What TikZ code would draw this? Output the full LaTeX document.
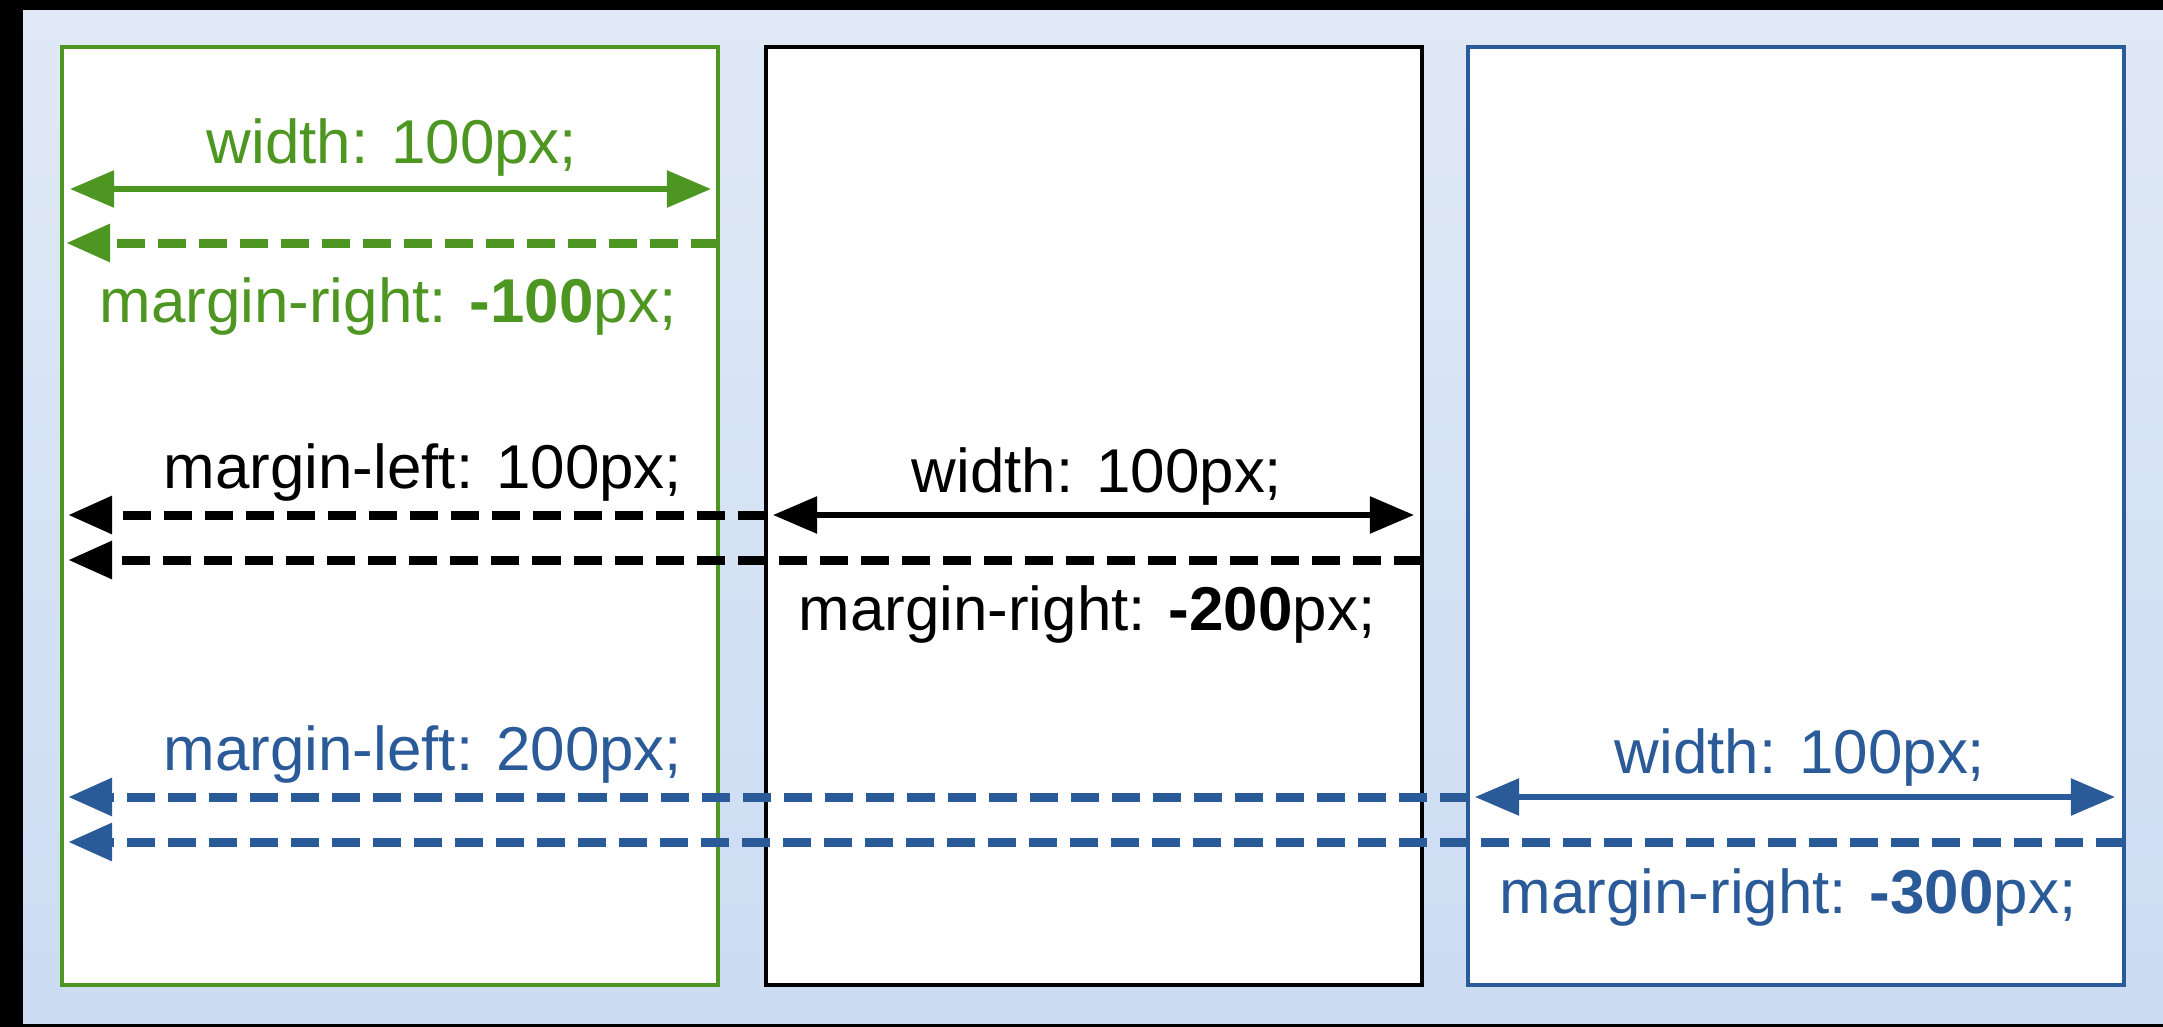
\documentclass[tikz,border=0pt]{standalone}
\usepackage{fontspec}
\setmainfont{Liberation Sans}
\usetikzlibrary{arrows.meta}

\definecolor{cssgreen}{RGB}{78,150,34}
\definecolor{cssblue}{RGB}{42,90,152}
\definecolor{bgtop}{RGB}{224,233,246}
\definecolor{bgbot}{RGB}{203,220,243}

\tikzset{
  box/.style={draw,line width=0.035cm,fill=white,minimum width=6.56cm,minimum height=9.37cm,inner sep=0pt},
  widtharr/.style={line width=0.055cm,{Triangle[length=0.44cm,width=0.36cm]}-{Triangle[length=0.44cm,width=0.36cm]}},
  marginarr/.style={line width=0.09cm,dash pattern=on 0.28cm off 0.13cm,-{Triangle[length=0.44cm,width=0.36cm]}},
  lbl/.style={anchor=base,inner sep=0pt,font=\fontsize{17.6}{20}\selectfont}
}

\begin{document}
\begin{tikzpicture}[x=0.01cm,y=-0.01cm]

% frame and background
\fill[black] (0,0) rectangle (2163,1027);
\shade[top color=bgtop,bottom color=bgbot] (23,10) rectangle (2163,1023);
\useasboundingbox (0,0) rectangle (2163,1027);

% the three boxes
\node[box,draw=cssgreen,line width=0.045cm] (greenbox) at (390,516) {};
\node[box,draw=black] (blackbox) at (1094,516) {};
\node[box,draw=cssblue] (bluebox) at (1796,516) {};

% green box
\coordinate (gw-l) at (70,189);
\coordinate (gw-r) at (711,189);
\coordinate (gm-r) at (719,243);
\coordinate (gm-l) at (66,243);
\draw[widtharr,cssgreen] (gw-l) -- (gw-r);
\draw[marginarr,cssgreen] (gm-r) -- (gm-l);
\node[lbl,text=cssgreen] (gwidth) at (392,163) {width: 100px;};
\node[lbl,text=cssgreen] (gmright) at (388,322) {margin-right: \textbf{-100}px;};

% black box
\coordinate (kl-r) at (766,515);
\coordinate (kl-l) at (68,515);
\coordinate (kw-l) at (773,515);
\coordinate (kw-r) at (1414,515);
\coordinate (km-r) at (1422,560);
\coordinate (km-l) at (68,560);
\draw[marginarr] (kl-r) -- (kl-l);
\draw[widtharr] (kw-l) -- (kw-r);
\draw[marginarr] (km-r) -- (km-l);
\node[lbl] (kmleft) at (423,488) {margin-left: 100px;};
\node[lbl] (kwidth) at (1097,492) {width: 100px;};
\node[lbl] (kmright) at (1087,630) {margin-right: \textbf{-200}px;};

% blue box
\coordinate (bl-r) at (1468,797);
\coordinate (bl-l) at (68,797);
\coordinate (bw-l) at (1475,797);
\coordinate (bw-r) at (2115,797);
\coordinate (bm-r) at (2124,842);
\coordinate (bm-l) at (68,842);
\draw[marginarr,cssblue] (bl-r) -- (bl-l);
\draw[widtharr,cssblue] (bw-l) -- (bw-r);
\draw[marginarr,cssblue] (bm-r) -- (bm-l);
\node[lbl,text=cssblue] (bmleft) at (423,770) {margin-left: 200px;};
\node[lbl,text=cssblue] (bwidth) at (1800,773) {width: 100px;};
\node[lbl,text=cssblue] (bmright) at (1788,913) {margin-right: \textbf{-300}px;};

\end{tikzpicture}
\end{document}
